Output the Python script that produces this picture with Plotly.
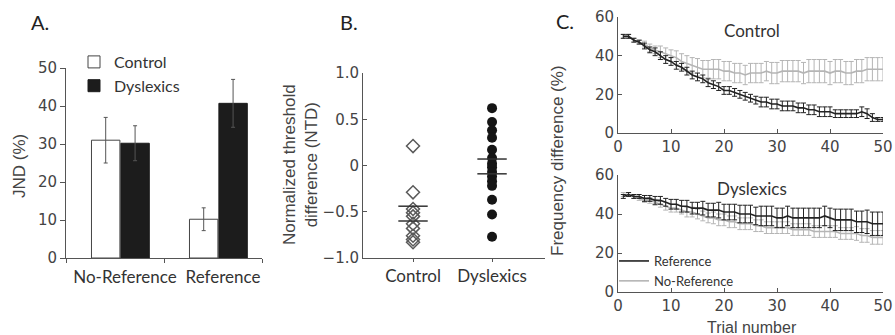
import plotly.graph_objects as go

# ---------------- data ----------------
# Panel A: JND (%)
a_conditions = ["No-Reference", "Reference"]
a_control = [31.0, 10.2]
a_control_err = [6.0, 3.0]
a_dyslexics = [30.2, 40.7]
a_dyslexics_err = [4.6, 6.3]

# Panel B: normalized threshold difference (NTD)
b_control = [0.21, -0.29, -0.47, -0.51, -0.55, -0.63, -0.68, -0.76, -0.80, -0.83]
b_dyslexics = [0.62, 0.47, 0.38, 0.30, 0.17, 0.08, 0.02, -0.02, -0.07, -0.12,
               -0.17, -0.22, -0.37, -0.53, -0.77]
b_control_se = [-0.44, -0.60]
b_dyslexics_se = [0.07, -0.09]
b_ytickvals = [-1.0, -0.5, 0, 0.5, 1.0]
b_yticktext = ["\u22121.0", "\u22120.5", "0", "0.5", "1.0"]

# Panel C: frequency difference (%) per trial
trials = list(range(1, 51))
c_ctrl_ref = [50, 50, 48, 47, 45, 43, 42, 40, 38, 37,
              35, 34, 32, 30, 29, 28, 26, 25, 24, 22,
              22, 21, 20, 19, 18, 17, 16, 16, 15, 15,
              14, 14, 14, 13, 13, 12, 12, 11, 11, 11,
              10, 10, 10, 10, 10, 11, 10, 8, 7, 7]
c_ctrl_ref_err = [1, 1, 1, 1, 1.5, 1.5, 2, 2, 2, 2,
                  2, 2, 2, 2, 2, 2, 2, 2, 2, 2,
                  2, 2, 2, 2, 2, 2, 2.5, 2.5, 2.5, 2.5,
                  2.5, 2.5, 2.5, 2.5, 2.5, 2.5, 2.5, 2.5, 2.5, 2.5,
                  2, 2, 2, 2, 2, 2.5, 2.5, 2, 1, 1]
c_ctrl_noref = [50, 50, 48, 47, 46, 44, 43, 42, 41, 40,
                39, 37, 36, 35, 34, 33, 33, 33, 33, 32,
                32, 31, 31, 30, 31, 31, 31, 32, 31, 31,
                32, 32, 32, 32, 31, 32, 32, 32, 32, 31,
                32, 32, 31, 31, 32, 32, 33, 33, 33, 33]
c_ctrl_noref_err = [1, 1, 1, 1, 1.5, 2, 2, 3, 3, 3,
                    3.5, 4, 4, 4, 4.5, 4.5, 4.5, 5, 5, 5,
                    5, 5, 5, 5, 5, 5, 5, 5, 5.5, 5.5,
                    5.5, 5.5, 5.5, 5.5, 5.5, 6, 6, 6, 6, 6,
                    6, 6, 6, 6, 6, 6, 6, 6, 6, 6]
c_dys_ref = [49, 50, 49, 49, 48, 48, 47, 47, 46, 45,
             45, 44, 44, 43, 43, 43, 42, 42, 42, 41,
             41, 41, 40, 40, 40, 39, 39, 39, 39, 38,
             38, 39, 38, 38, 38, 38, 38, 38, 39, 38,
             37, 37, 37, 37, 36, 36, 36, 35, 35, 35]
c_dys_ref_err = [1, 1, 1, 1, 1.5, 1.5, 2, 2, 2, 2.5,
                 2.5, 3, 3, 3, 3, 3.5, 3.5, 3.5, 4, 4,
                 4, 4, 4.5, 4.5, 4.5, 4.5, 5, 5, 5, 5,
                 5, 5, 5, 5, 5, 5, 5, 5, 5, 5,
                 5.5, 5.5, 5.5, 5.5, 5.5, 5.5, 6, 6, 6, 6]
c_dys_noref = [50, 50, 49, 48, 47, 47, 46, 45, 44, 43,
               43, 42, 41, 41, 40, 39, 38, 38, 37, 37,
               36, 36, 35, 35, 35, 34, 34, 33, 33, 33,
               33, 33, 32, 32, 32, 32, 31, 31, 31, 31,
               31, 30, 30, 30, 30, 29, 29, 28, 28, 28]
c_dys_noref_err = [1, 1, 1, 1, 1, 1.5, 1.5, 1.5, 2, 2,
                   2, 2, 2.5, 2.5, 2.5, 2.5, 2.5, 3, 3, 3,
                   3, 3, 3, 3, 3, 3, 3, 3, 3, 3,
                   3, 3, 3, 3, 3, 3, 3, 3, 3, 3,
                   3, 3, 3, 3, 3.5, 3.5, 3.5, 3.5, 3.5, 3.5]

# ---------------- style ----------------
W, H = 895, 335
AX = "#555555"
TICKFONT = dict(family="DejaVu Sans", size=15, color="#444444")
LABFONT = dict(family="Lato", size=17, color="#333333")
TITLEFONT = dict(family="Liberation Sans", size=17, color="#444444")
DARK = "#222222"
LIGHT = "#b5b5b5"


def px(x):
    return x / W


def py(y):
    return 1 - y / H


fig = go.Figure()

# ---- Panel A ----
fig.add_trace(go.Bar(
    x=a_conditions, y=a_control, name="Control",
    marker=dict(color="white", line=dict(color="#444444", width=1)),
    error_y=dict(type="data", array=a_control_err, color="#555555", thickness=1, width=2),
    width=0.29, offset=-0.24, xaxis="x", yaxis="y", legend="legend"))
fig.add_trace(go.Bar(
    x=a_conditions, y=a_dyslexics, name="Dyslexics",
    marker=dict(color="#1c1c1c", line=dict(color="#1c1c1c", width=1)),
    error_y=dict(type="data", array=a_dyslexics_err, color="#555555", thickness=1, width=2),
    width=0.29, offset=0.06, xaxis="x", yaxis="y", legend="legend"))

# ---- Panel B ----
fig.add_trace(go.Scatter(
    x=["Control"] * len(b_control), y=b_control, mode="markers",
    marker=dict(symbol="diamond-open", size=10, color="#5a5a5a", line=dict(width=1.5)),
    showlegend=False, xaxis="x2", yaxis="y2"))
fig.add_trace(go.Scatter(
    x=["Dyslexics"] * len(b_dyslexics), y=b_dyslexics, mode="markers",
    marker=dict(symbol="circle", size=10, color="#151515"),
    showlegend=False, xaxis="x2", yaxis="y2"))
fig.add_trace(go.Scatter(
    x=["Control"] * len(b_control_se) + ["Dyslexics"] * len(b_dyslexics_se),
    y=b_control_se + b_dyslexics_se, mode="markers",
    marker=dict(symbol="line-ew", size=21, line=dict(width=1.5, color="#333333")),
    showlegend=False, xaxis="x2", yaxis="y2"))

# ---- Panel C ----
def c_trace(y, err, color, name, xa, ya, show):
    return go.Scatter(
        x=trials, y=y, mode="lines", name=name,
        line=dict(color=color, width=1.6),
        error_y=dict(type="data", array=err, color=color, thickness=1, width=2.5),
        showlegend=show, xaxis=xa, yaxis=ya, legend="legend2")

fig.add_trace(c_trace(c_ctrl_noref, c_ctrl_noref_err, LIGHT, "No-Reference", "x3", "y3", False))
fig.add_trace(c_trace(c_ctrl_ref, c_ctrl_ref_err, DARK, "Reference", "x3", "y3", False))
fig.add_trace(c_trace(c_dys_noref, c_dys_noref_err, LIGHT, "No-Reference", "x4", "y4", True))
fig.add_trace(c_trace(c_dys_ref, c_dys_ref_err, DARK, "Reference", "x4", "y4", True))

axis_base = dict(showline=True, linecolor=AX, linewidth=1, showgrid=False,
                 zeroline=False, tickcolor=AX, fixedrange=True, automargin=False)

fig.update_layout(
    template="none",
    width=W, height=H, margin=dict(l=0, r=0, t=0, b=0, autoexpand=False),
    paper_bgcolor="white", plot_bgcolor="white",
    barmode="overlay", showlegend=True,
    # Panel A
    xaxis=dict(domain=[px(66), px(262)], range=[-0.5, 1.5], type="category",
               tickson="boundaries", ticks="outside", ticklen=4, tickangle=0,
               tickfont=LABFONT, ticklabelshift=10, ticklabelstandoff=4,
               anchor="y", **axis_base),
    yaxis=dict(domain=[py(258), py(68)], range=[0, 50], tickvals=[0, 10, 20, 30, 40, 50],
               ticks="outside", ticklen=5, tickfont=TICKFONT, anchor="x", **axis_base),
    # Panel B
    xaxis2=dict(domain=[px(363), px(545)], range=[-0.633, 1.67], type="category",
                ticks="outside", ticklen=3, tickangle=0, tickfont=LABFONT, anchor="y2",
                **axis_base),
    yaxis2=dict(domain=[py(258), py(73)], range=[-1, 1], tickvals=b_ytickvals,
                ticktext=b_yticktext, ticks="inside", ticklen=4, tickfont=TICKFONT,
                anchor="x2", **axis_base),
    # Panel C top
    xaxis3=dict(domain=[px(618), px(883)], range=[0, 50], tickvals=[0, 10, 20, 30, 40, 50],
                ticks="inside", ticklen=4, tickfont=TICKFONT, anchor="y3", **axis_base),
    yaxis3=dict(domain=[py(133), py(17)], range=[0, 60], tickvals=[0, 20, 40, 60],
                ticks="inside", ticklen=4, tickfont=TICKFONT, anchor="x3", **axis_base),
    # Panel C bottom
    xaxis4=dict(domain=[px(618), px(883)], range=[0, 50], tickvals=[0, 10, 20, 30, 40, 50],
                ticks="inside", ticklen=4, tickfont=TICKFONT, anchor="y4", **axis_base),
    yaxis4=dict(domain=[py(292), py(175)], range=[0, 60], tickvals=[0, 20, 40, 60],
                ticks="inside", ticklen=4, tickfont=TICKFONT, anchor="x4", **axis_base),
    legend=dict(x=px(74), y=py(45), xanchor="left", yanchor="top",
                font=dict(family="Lato", size=16, color="#333333"),
                bgcolor="rgba(0,0,0,0)", borderwidth=0, itemclick=False),
    legend2=dict(x=px(614), y=py(246), xanchor="left", yanchor="top",
                 font=dict(family="Lato", size=13, color="#333333"),
                 bgcolor="rgba(0,0,0,0)", borderwidth=0, traceorder="reversed",
                 itemclick=False),
)

annotations = [
    dict(text="A.", x=px(40), y=py(22), font=dict(family="Lato", size=20, color="#222")),
    dict(text="B.", x=px(349), y=py(22), font=dict(family="Lato", size=20, color="#222")),
    dict(text="C.", x=px(565), y=py(21), font=dict(family="Lato", size=20, color="#222")),
    dict(text="Control", x=px(752), y=py(30), font=LABFONT),
    dict(text="Dyslexics", x=px(752), y=py(188), font=LABFONT),
    dict(text="JND (%)", x=px(19), y=py(166), textangle=-90, font=TITLEFONT),
    dict(text="Normalized threshold<br>difference (NTD)", x=px(300), y=py(165),
         textangle=-90, font=TITLEFONT),
    dict(text="Frequency difference (%)", x=px(557), y=py(161), textangle=-90, font=TITLEFONT),
    dict(text="Trial number", x=px(752), y=py(327),
         font=dict(family="Liberation Sans", size=16, color="#444")),
]
for a in annotations:
    a.update(xref="paper", yref="paper", showarrow=False, xanchor="center", yanchor="middle")
fig.update_layout(annotations=annotations)

fig.write_html("out.html", config={"displayModeBar": False},
               post_script="document.body.style.margin='0px';document.body.style.overflow='hidden';")
